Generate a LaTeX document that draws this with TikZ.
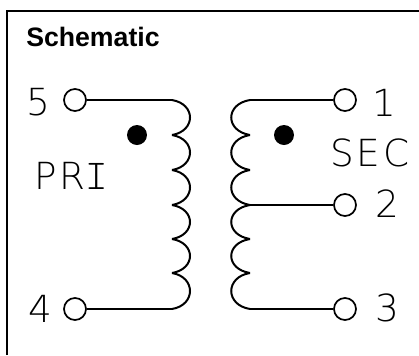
\documentclass[tikz,border=0pt]{standalone}
\usepackage{fontspec}
\setmainfont{Liberation Sans}
\newfontfamily\cadfont[LetterSpace=8]{DejaVu Sans ExtraLight}
\newfontfamily\cadbar{Latin Modern Mono Light}
\usetikzlibrary{calc}
\tikzset{
  wire/.style={draw=black,line width=1.5pt},
  terminal/.style={circle,draw=black,line width=1.3pt,fill=white,inner sep=0pt,minimum size=16.5pt},
  phasedot/.style={circle,fill=black,inner sep=0pt,minimum size=15pt},
  padlabel/.style={inner sep=0pt,anchor=base,font=\fontsize{28}{28}\selectfont\cadfont},
}
\begin{document}
\begin{tikzpicture}[x=0.75pt,y=-0.75pt]
  \useasboundingbox (0,0) rectangle (419,355);
  % frame, open on the right and at the bottom
  \draw[line width=1.5pt] (7.5,355) -- (7.5,11) -- (419,11);
  \node[inner sep=0pt,anchor=base west,font=\fontsize{20}{20}\selectfont\bfseries] (title) at (26,46) {Schematic};
  % terminals
  \node[terminal] (t5) at (75,100) {};
  \node[terminal] (t4) at (75,309) {};
  \node[terminal] (t1) at (345,100) {};
  \node[terminal] (t2) at (345,205) {};
  \node[terminal] (t3) at (345,309) {};
  \node[padlabel] (l5) at (38,115) {5};
  \node[padlabel] (l4) at (40,322) {4};
  \node[padlabel] (l1) at (384,116) {1};
  \node[padlabel] (l2) at (387,217) {2};
  \node[padlabel] (l3) at (387,321) {3};
  \node[padlabel] (pri) at (71,189) {PR{\fontsize{32}{32}\selectfont\cadbar I}};
  \node[padlabel] (sec) at (370,166) {SEC};
  \node[phasedot] (dotp) at (137,135) {};
  \node[phasedot] (dots) at (284,135) {};
  % windings
  \foreach \n/\y in {0/100,1/135,2/170,3/205,4/239,5/273,6/309}
    {
     \coordinate (pa\n) at (172,\y);
     \coordinate (se\n) at (250,\y);
    }
  \foreach \n/\m in {0/1,1/2,2/3,3/4,4/5,5/6}
    {
     \draw[wire] (pa\n) .. controls ($(pa\n)+(24,4)$) and ($(pa\m)+(24,-4)$) .. (pa\m);
     \draw[wire] (se\n) .. controls ($(se\n)+(-25,4)$) and ($(se\m)+(-25,-4)$) .. (se\m);
    }
  % leads
  \draw[wire] (t5) -- (pa0);
  \draw[wire] (t4) -- (pa6);
  \draw[wire] (se0) -- (t1);
  \draw[wire] (se3) -- (t2);
  \draw[wire] (se6) -- (t3);
\end{tikzpicture}
\end{document}
